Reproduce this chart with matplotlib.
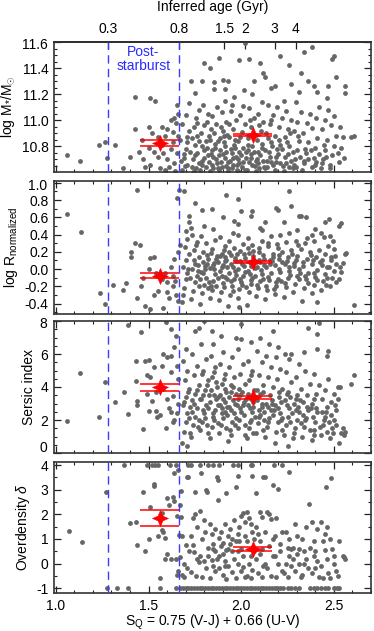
import matplotlib
matplotlib.use("Agg")
import matplotlib.pyplot as plt
from matplotlib.path import Path
from matplotlib.ticker import MultipleLocator, FormatStrFormatter, NullLocator, FuncFormatter
from matplotlib.transforms import offset_copy

plt.rcParams['font.family'] = ['Liberation Sans', 'DejaVu Sans']
plt.rcParams['mathtext.fontset'] = 'custom'
plt.rcParams['mathtext.rm'] = 'Liberation Sans'
plt.rcParams['mathtext.it'] = 'Liberation Sans:italic'
plt.rcParams['mathtext.sf'] = 'Liberation Sans'
plt.rcParams['axes.unicode_minus'] = False

# ---------------- data ----------------
age_tick_pos = [1.283, 1.663, 1.909, 2.02, 2.18, 2.294]
age_tick_lab = ['0.3', '0.8', '1.5', '2', '3', '4']
psb_lines = [1.283, 1.663]

bin_x = [1.56, 2.065]
bin_lo = [1.452, 1.955]
bin_hi = [1.665, 2.168]
mass_mean = [10.825, 10.889]
mass_up = [10.845, 10.897]
mass_dn = [10.805, 10.877]
size_mean = [-0.075, 0.083]
size_up = [-0.05, 0.096]
size_dn = [-0.105, 0.068]
sersic_mean = [3.98, 3.40]
sersic_up = [4.19, 3.48]
sersic_dn = [3.76, 3.30]
dens_mean = [1.86, 0.60]
dens_up = [2.18, 0.67]
dens_dn = [1.54, 0.50]

mass_pts = [
    (1.06,10.73),(1.13,10.69),(1.235,10.81),(1.265,10.83),(1.275,10.71),(1.32,10.81),(1.36,10.63),
    (1.425,11.18),(1.425,10.93),(1.51,11.17),(1.535,11.15),(1.465,10.85),(1.40,10.72),(1.48,10.64),
    (1.50,10.95),(1.52,10.90),(1.55,10.87),(1.57,10.95),(1.59,10.88),(1.60,10.93),(1.62,11.00),
    (1.63,10.91),(1.64,11.02),(1.655,11.12),(1.66,11.05),(1.65,10.98),(1.50,10.79),(1.53,10.76),
    (1.55,10.72),(1.58,10.75),(1.60,10.70),(1.62,10.78),(1.64,10.67),(1.47,10.70),(1.51,10.66),
    (1.56,10.63),(1.61,10.64),(1.45,10.76),(1.57,10.81),(1.63,10.83),(1.655,10.75),(1.66,10.88),
    (1.59,10.62),(1.645,10.61),
    (1.68,10.62),(1.69,10.71),(1.70,10.78),(1.67,10.85),(1.71,10.66),(1.72,10.92),(1.68,10.97),(1.70,11.04),
    (1.69,10.74),(1.71,10.83),(1.72,11.13),(1.73,11.30),
    (1.733,10.64),(1.74,10.70),(1.75,10.81),(1.76,10.88),(1.744,10.95),(1.755,11.02),(1.77,10.67),(1.763,10.75),
    (1.736,10.86),(1.77,11.08),(1.752,11.21),(1.745,10.61),(1.76,10.98),
    (1.78,10.62),(1.79,10.69),(1.80,10.77),(1.81,10.84),(1.784,10.90),(1.80,10.96),(1.82,11.05),(1.795,11.12),
    (1.81,10.64),(1.82,10.73),(1.786,10.80),(1.80,11.44),(1.79,11.30),(1.815,10.99),(1.824,10.88),
    (1.83,10.61),(1.84,10.66),(1.85,10.72),(1.86,10.79),(1.834,10.85),(1.852,10.90),(1.865,10.97),(1.844,11.03),
    (1.87,11.10),(1.83,11.40),(1.853,11.24),(1.873,10.63),(1.862,10.70),(1.843,10.77),(1.872,10.84),(1.836,10.93),(1.855,11.29),
    (1.88,10.62),(1.89,10.68),(1.90,10.74),(1.91,10.80),(1.884,10.86),(1.90,10.92),(1.92,10.99),(1.894,11.06),
    (1.91,11.15),(1.88,11.48),(1.90,11.31),(1.92,10.65),(1.914,10.71),(1.883,10.77),(1.905,10.83),(1.922,10.89),
    (1.893,10.95),(1.91,11.24),(1.926,10.61),
    (1.93,10.63),(1.94,10.69),(1.95,10.75),(1.96,10.81),(1.934,10.87),(1.953,10.93),(1.97,11.00),(1.944,11.07),
    (1.96,11.18),(1.93,11.30),(1.955,10.66),(1.973,10.72),(1.946,10.78),(1.964,10.85),(1.936,10.97),(1.975,10.62),(1.95,11.12),
    (1.98,10.61),(1.99,10.67),(2.00,10.73),(2.01,10.79),(1.984,10.84),(2.004,10.91),(2.02,10.97),(1.993,11.04),
    (2.01,11.11),(1.99,11.46),(2.02,11.59),(1.985,10.70),(2.003,10.64),(2.024,10.76),(1.996,10.87),(2.013,11.23),
    (2.03,10.62),(2.04,10.68),(2.05,10.74),(2.06,10.80),(2.034,10.86),(2.053,10.95),(2.07,11.02),(2.044,11.09),
    (2.06,11.20),(2.04,11.47),(2.073,10.65),(2.055,10.71),(2.035,10.77),(2.064,10.88),(2.046,11.00),(2.07,11.30),
    (2.08,10.61),(2.09,10.67),(2.10,10.73),(2.11,10.79),(2.084,10.85),(2.104,10.92),(2.12,10.99),(2.093,11.05),
    (2.11,11.14),(2.10,11.44),(2.123,10.64),(2.085,10.70),(2.113,10.82),(2.094,10.96),(2.12,11.36),
    (2.13,10.63),(2.14,10.69),(2.15,10.76),(2.16,10.83),(2.134,10.90),(2.153,10.97),(2.17,11.04),(2.144,11.12),
    (2.13,11.33),(2.16,11.25),(2.173,10.66),(2.155,10.72),(2.145,10.86),(2.163,11.00),
    (2.18,10.62),(2.19,10.68),(2.20,10.74),(2.21,10.81),(2.184,10.88),(2.203,10.95),(2.22,11.02),(2.194,11.10),
    (2.21,11.49),(2.18,11.26),(2.223,10.65),(2.205,10.85),(2.195,10.78),
    (2.23,10.61),(2.24,10.67),(2.25,10.74),(2.26,10.80),(2.234,10.87),(2.253,10.93),(2.27,11.00),(2.244,11.07),
    (2.26,11.42),(2.27,11.28),(2.23,11.15),(2.255,10.64),(2.264,10.90),
    (2.28,10.63),(2.29,10.70),(2.30,10.77),(2.31,10.84),(2.284,10.92),(2.303,10.99),(2.32,11.06),(2.294,11.14),
    (2.31,11.22),(2.32,11.36),(2.286,10.66),(2.305,10.88),
    (2.33,10.62),(2.34,10.69),(2.35,10.75),(2.36,10.83),(2.334,10.90),(2.353,10.98),(2.37,11.05),(2.34,11.52),
    (2.36,11.30),(2.38,11.56),(2.345,10.78),
    (2.383,10.64),(2.39,10.71),(2.40,10.79),(2.41,10.86),(2.384,10.94),(2.403,11.02),(2.42,11.10),(2.39,11.26),
    (2.41,11.22),(2.405,10.68),
    (2.43,10.63),(2.44,10.70),(2.45,10.77),(2.46,10.85),(2.434,10.93),(2.453,11.00),(2.47,11.08),(2.46,11.17),
    (2.47,11.26),(2.444,10.81),
    (2.48,10.66),(2.49,10.73),(2.50,10.80),(2.51,10.88),(2.484,10.96),(2.503,11.03),(2.49,11.47),(2.50,11.49),
    (2.51,11.33),(2.52,10.75),
    (2.53,10.68),(2.54,10.79),(2.55,10.87),(2.56,11.21),(2.56,11.26),(2.535,10.95),(2.59,10.87),(2.555,10.71),(2.61,10.88),
    (1.675,10.69),(1.695,10.65),(1.705,10.87),(1.725,10.76),(1.748,10.73),(1.758,10.63),(1.772,10.84),(1.788,10.66),
    (1.798,10.71),(1.817,10.79),(1.828,10.68),(1.838,10.74),(1.848,10.63),(1.858,10.82),(1.868,10.67),(1.878,10.73),
    (1.898,10.64),(1.908,10.88),(1.918,10.76),(1.928,10.68),(1.948,10.63),(1.958,10.71),(1.968,10.79),(1.978,10.66),
    (1.988,10.76),(2.008,10.68),(2.018,10.62),(2.028,10.71),(2.038,10.81),(2.058,10.66),(2.068,10.76),(2.078,10.69),
    (2.088,10.76),(2.098,10.63),(2.118,10.69),(2.128,10.77),(2.138,10.64),(2.158,10.68),(2.168,10.80),(2.188,10.72),
    (2.208,10.67),(2.218,10.78),(2.238,10.72),(2.248,10.83),(2.268,10.69),(2.278,10.76),(2.298,10.64),(2.318,10.72),
    (2.338,10.67),(2.358,10.70),(2.378,10.77),(2.398,10.66),(2.418,10.74),(2.438,10.67),(2.458,10.72),(2.478,10.63),
]

size_pts = [
    (1.06,0.64),(1.135,0.43),(1.265,-0.40),(1.24,-0.28),(1.31,-0.18),(1.36,-0.24),(1.38,-0.16),(1.405,0.20),
    (1.405,0.14),(1.425,0.30),(1.455,0.28),(1.44,-0.33),(1.46,-0.20),(1.47,-0.10),(1.50,0.00),(1.51,0.13),
    (1.53,0.14),(1.48,-0.43),(1.51,-0.46),(1.44,0.92),(1.665,0.92),(1.655,0.82),(1.69,0.90),(1.60,-0.15),
    (1.63,-0.20),(1.65,-0.30),(1.66,-0.37),(1.58,-0.45),(1.60,-0.26),(1.62,0.02),(1.64,0.12),(1.55,-0.25),
    (1.57,-0.12),(1.59,-0.05),(1.53,-0.30),(1.63,-0.08),(1.66,0.20),(1.67,0.28),(1.54,-0.05),(1.61,-0.34),(1.645,-0.14),
    (1.68,-0.38),(1.69,-0.22),(1.70,-0.12),(1.71,-0.05),(1.684,0.03),(1.70,0.10),(1.72,0.18),(1.694,0.26),
    (1.71,0.35),(1.703,0.44),(1.72,0.55),(1.686,-0.30),(1.713,0.00),(1.72,0.62),
    (1.73,-0.35),(1.74,-0.25),(1.75,-0.15),(1.76,-0.08),(1.734,0.00),(1.753,0.06),(1.77,0.14),(1.744,0.22),
    (1.76,0.31),(1.735,0.40),(1.77,-0.19),(1.745,0.10),(1.755,0.28),(1.765,-0.02),(1.75,0.76),(1.73,0.48),
    (1.78,-0.40),(1.79,-0.28),(1.80,-0.18),(1.81,-0.10),(1.784,-0.03),(1.803,0.04),(1.82,0.12),(1.794,0.20),
    (1.81,0.30),(1.785,0.38),(1.80,0.50),(1.823,-0.22),(1.796,0.08),(1.814,0.16),(1.805,0.00),(1.79,0.68),
    (1.83,-0.33),(1.84,-0.24),(1.85,-0.14),(1.86,-0.06),(1.834,0.01),(1.853,0.07),(1.87,0.15),(1.844,0.23),
    (1.86,0.34),(1.85,0.47),(1.835,-0.20),(1.872,-0.10),(1.846,0.05),(1.864,0.12),(1.836,0.19),(1.84,0.70),
    (1.88,-0.36),(1.89,-0.26),(1.90,-0.16),(1.91,-0.09),(1.884,-0.02),(1.903,0.05),(1.92,0.11),(1.894,0.18),
    (1.91,0.27),(1.885,0.37),(1.905,-0.21),(1.922,-0.12),(1.896,0.02),(1.914,0.09),(1.886,0.15),(1.906,0.22),
    (1.92,0.86),(1.90,0.60),
    (1.93,-0.43),(1.94,-0.30),(1.95,-0.19),(1.96,-0.11),(1.934,-0.04),(1.953,0.03),(1.97,0.09),(1.944,0.16),
    (1.96,0.24),(1.935,0.33),(1.955,-0.25),(1.972,-0.07),(1.946,0.06),(1.964,0.13),(1.936,0.20),(1.955,0.42),(1.96,0.56),
    (1.98,-0.34),(1.99,-0.23),(2.00,-0.15),(2.01,-0.08),(1.984,0.00),(2.003,0.06),(2.02,0.13),(1.994,0.21),
    (2.01,0.29),(1.985,0.40),(2.005,-0.18),(2.022,-0.03),(1.996,0.09),(2.014,0.17),(1.98,0.52),(1.985,0.81),
    (2.00,0.67),(1.99,-0.44),
    (2.03,-0.41),(2.04,-0.27),(2.05,-0.17),(2.06,-0.10),(2.034,-0.02),(2.053,0.04),(2.07,0.11),(2.044,0.19),
    (2.06,0.28),(2.035,0.36),(2.055,-0.13),(2.072,0.01),(2.046,0.08),(2.064,0.15),(2.036,0.24),(2.06,0.67),(2.05,0.62),
    (2.08,-0.31),(2.09,-0.22),(2.10,-0.14),(2.11,-0.06),(2.084,0.02),(2.103,0.08),(2.12,0.16),(2.094,0.24),
    (2.11,0.32),(2.085,-0.18),(2.105,-0.01),(2.122,0.12),(2.096,0.20),(2.114,0.45),(2.10,0.48),
    (2.13,-0.35),(2.14,-0.24),(2.15,-0.13),(2.16,-0.05),(2.134,0.03),(2.153,0.10),(2.17,0.18),(2.144,0.27),
    (2.16,0.38),(2.135,-0.19),(2.155,0.06),(2.172,0.14),(2.146,0.30),(2.13,0.55),
    (2.18,-0.29),(2.19,-0.20),(2.20,-0.11),(2.21,-0.03),(2.184,0.05),(2.203,0.12),(2.22,0.20),(2.194,0.29),
    (2.21,0.40),(2.185,-0.15),(2.205,0.00),(2.222,0.08),(2.196,0.25),(2.19,0.71),(2.20,0.68),
    (2.23,-0.32),(2.24,-0.21),(2.25,-0.10),(2.26,-0.02),(2.234,0.06),(2.253,0.14),(2.27,0.22),(2.244,0.31),
    (2.26,0.42),(2.235,-0.16),(2.255,0.02),(2.272,0.18),(2.26,0.90),(2.27,0.73),(2.23,0.55),
    (2.28,-0.26),(2.29,-0.17),(2.30,-0.08),(2.31,0.00),(2.284,0.07),(2.303,0.15),(2.32,0.23),(2.294,0.33),
    (2.31,-0.12),(2.285,0.04),(2.305,0.28),(2.31,0.62),(2.32,0.62),(2.30,0.45),
    (2.33,-0.37),(2.34,-0.22),(2.35,-0.12),(2.36,-0.04),(2.334,0.04),(2.353,0.12),(2.37,0.20),(2.344,0.30),
    (2.36,-0.16),(2.335,0.08),(2.355,0.36),(2.35,0.60),
    (2.38,-0.28),(2.39,-0.18),(2.40,-0.09),(2.41,-0.01),(2.384,0.06),(2.403,0.14),(2.42,0.22),(2.394,0.32),
    (2.41,-0.13),(2.385,0.10),(2.40,0.47),(2.38,0.40),(2.41,-0.38),
    (2.43,-0.24),(2.44,-0.14),(2.45,-0.06),(2.46,0.02),(2.434,0.10),(2.453,0.18),(2.47,0.27),(2.444,0.37),
    (2.46,-0.10),(2.435,0.05),(2.45,0.55),(2.43,0.42),
    (2.48,-0.20),(2.49,-0.10),(2.50,-0.02),(2.51,0.06),(2.484,0.14),(2.503,0.23),(2.494,0.33),(2.51,-0.15),
    (2.485,0.10),(2.476,0.58),(2.48,0.38),
    (2.53,-0.12),(2.54,-0.03),(2.55,0.07),(2.56,0.17),(2.565,0.19),(2.535,0.02),(2.54,0.53),(2.53,0.50),(2.61,-0.41),
    (1.725,-0.10),(1.765,0.05),(1.775,-0.12),(1.795,-0.05),(1.815,0.06),(1.825,-0.15),(1.855,0.00),(1.865,-0.19),
    (1.875,0.08),(1.895,-0.08),(1.915,0.14),(1.925,0.03),(1.945,-0.14),(1.965,-0.02),(1.975,0.18),(1.995,-0.11),
    (2.015,0.04),(2.025,-0.21),(2.045,-0.06),(2.065,0.21),(2.075,-0.08),(2.095,0.11),(2.115,-0.12),(2.125,0.05),
    (2.145,-0.09),(2.165,0.09),(2.175,-0.23),(2.205,0.16),(2.215,-0.14),(2.245,0.09),(2.265,-0.07),(2.295,0.11),
    (2.315,-0.04),(2.345,-0.08),(2.375,0.16),(2.395,-0.05),(2.425,0.08),(2.455,-0.18),(2.475,0.03),(2.505,0.15),
]

sersic_pts = [
    (1.06,1.96),(1.13,4.82),(1.235,2.19),(1.267,4.29),(1.32,3.07),(1.365,3.68),(1.387,2.39),(1.387,7.73),
    (1.43,4.35),(1.44,3.15),(1.44,2.90),(1.46,7.33),(1.43,5.60),(1.47,1.46),(1.48,5.60),(1.50,5.62),
    (1.49,4.75),(1.51,4.60),(1.49,3.60),(1.54,3.70),(1.50,2.55),(1.52,3.15),(1.54,2.55),(1.545,2.20),
    (1.594,7.94),(1.594,1.50),(1.62,7.50),(1.58,6.00),(1.60,5.80),(1.62,4.90),(1.63,1.90),(1.64,6.40),
    (1.65,7.10),(1.655,5.30),(1.61,2.70),(1.62,2.50),(1.64,2.00),(1.57,5.30),(1.53,5.20),(1.60,3.30),
    (1.63,3.45),(1.66,3.00),(1.655,2.40),(1.56,2.30),(1.58,3.90),(1.62,5.90),(1.66,4.50),
    (1.68,0.60),(1.69,1.30),(1.70,1.90),(1.71,2.40),(1.684,2.90),(1.70,3.40),(1.72,3.90),(1.694,4.40),
    (1.71,5.00),(1.685,5.60),(1.70,6.30),(1.72,2.10),(1.693,3.10),(1.714,3.70),(1.722,1.20),(1.705,0.40),
    (1.73,1.00),(1.74,1.70),(1.75,2.20),(1.76,2.70),(1.734,3.20),(1.753,3.60),(1.77,4.10),(1.744,4.70),
    (1.76,5.30),(1.735,6.00),(1.75,7.40),(1.772,2.00),(1.745,3.00),(1.764,3.80),(1.77,7.60),(1.736,2.50),
    (1.78,1.40),(1.79,1.90),(1.80,2.40),(1.81,2.90),(1.784,3.30),(1.803,3.80),(1.82,4.40),(1.794,5.00),
    (1.81,5.70),(1.785,6.60),(1.805,2.10),(1.822,2.70),(1.796,3.50),(1.814,4.10),(1.82,1.20),(1.80,8.00),(1.786,4.80),
    (1.83,0.90),(1.84,1.60),(1.85,2.20),(1.86,2.60),(1.834,3.10),(1.853,3.50),(1.87,4.00),(1.844,4.60),
    (1.86,5.20),(1.835,5.90),(1.85,6.60),(1.872,1.80),(1.846,2.40),(1.864,3.30),(1.836,3.80),(1.855,4.90),
    (1.874,2.90),(1.84,7.40),
    (1.88,1.20),(1.89,1.70),(1.90,2.10),(1.91,2.50),(1.884,2.90),(1.903,3.30),(1.92,3.70),(1.894,4.20),
    (1.91,4.80),(1.885,5.40),(1.90,6.10),(1.922,2.30),(1.896,2.70),(1.914,3.10),(1.886,3.50),(1.906,4.50),
    (1.92,1.50),(1.89,7.10),
    (1.93,0.70),(1.94,1.40),(1.95,1.90),(1.96,2.40),(1.934,2.80),(1.953,3.20),(1.97,3.60),(1.944,4.10),
    (1.96,4.60),(1.935,5.20),(1.95,5.80),(1.972,2.10),(1.946,2.60),(1.964,3.00),(1.936,3.40),(1.955,4.00),
    (1.97,7.00),(1.944,1.10),
    (1.98,1.50),(1.99,2.00),(2.00,2.50),(2.01,2.90),(1.984,3.30),(2.003,3.70),(2.02,4.20),(1.994,4.80),
    (2.01,5.40),(1.985,6.30),(2.00,7.80),(2.022,1.70),(1.996,2.70),(2.014,3.10),(1.986,3.90),(2.00,6.90),(2.02,1.10),
    (2.03,0.90),(2.04,1.50),(2.05,2.00),(2.06,2.50),(2.034,2.90),(2.053,3.30),(2.07,3.80),(2.044,4.40),
    (2.06,5.00),(2.035,5.60),(2.05,6.70),(2.072,2.20),(2.046,2.70),(2.064,3.10),(2.036,3.60),(2.055,4.70),(2.066,1.20),
    (2.08,1.20),(2.09,1.80),(2.10,2.30),(2.11,2.80),(2.084,3.20),(2.103,3.60),(2.12,4.10),(2.094,4.70),
    (2.11,5.50),(2.085,6.20),(2.10,7.00),(2.122,2.00),(2.096,2.60),(2.114,3.00),(2.086,3.80),(2.12,1.40),
    (2.13,1.00),(2.14,1.60),(2.15,2.10),(2.16,2.60),(2.134,3.00),(2.153,3.50),(2.17,4.00),(2.144,4.60),
    (2.16,5.20),(2.135,5.90),(2.15,6.60),(2.172,2.30),(2.146,2.80),(2.164,3.20),(2.17,7.40),
    (2.18,0.60),(2.19,1.30),(2.20,1.90),(2.21,2.40),(2.184,2.90),(2.203,3.40),(2.22,3.90),(2.194,4.50),
    (2.21,5.10),(2.185,5.80),(2.20,6.40),(2.222,2.10),(2.196,2.70),(2.214,3.10),(2.22,1.40),
    (2.23,1.10),(2.24,1.70),(2.25,2.20),(2.26,2.70),(2.234,3.20),(2.253,3.70),(2.27,4.30),(2.244,4.90),
    (2.26,5.70),(2.235,6.00),(2.25,0.40),(2.272,2.40),(2.246,2.90),(2.264,3.40),(2.27,6.00),
    (2.28,0.90),(2.29,1.50),(2.30,2.00),(2.31,2.50),(2.284,3.00),(2.303,3.50),(2.32,3.90),(2.294,4.60),
    (2.31,5.40),(2.285,1.20),(2.305,2.80),(2.322,1.80),(2.296,3.30),
    (2.33,1.00),(2.34,1.60),(2.35,2.10),(2.36,2.60),(2.334,3.10),(2.353,3.50),(2.37,4.20),(2.344,5.00),
    (2.36,7.60),(2.335,2.30),(2.355,2.80),(2.372,1.40),(2.34,6.10),
    (2.38,0.80),(2.39,1.40),(2.40,1.90),(2.41,2.50),(2.384,3.00),(2.403,3.60),(2.42,4.10),(2.394,4.80),
    (2.41,6.30),(2.42,7.90),(2.385,2.20),(2.405,2.70),(2.41,7.20),(2.395,1.10),
    (2.43,1.10),(2.44,1.70),(2.45,2.20),(2.46,2.80),(2.434,3.30),(2.453,3.80),(2.47,4.50),(2.444,2.00),
    (2.46,1.30),(2.47,6.20),(2.465,5.90),(2.435,2.50),
    (2.48,0.90),(2.49,1.50),(2.50,2.00),(2.51,2.60),(2.484,3.10),(2.503,3.60),(2.52,4.00),(2.494,1.20),
    (2.51,1.70),(2.52,3.30),(2.485,2.30),
    (2.53,0.60),(2.54,1.20),(2.55,1.50),(2.56,1.30),(2.535,4.00),(2.59,4.20),(2.61,4.72),(2.553,1.10),
    (1.725,2.80),(1.765,1.60),(1.775,3.30),(1.795,2.60),(1.815,1.70),(1.825,3.50),(1.855,2.00),(1.865,4.30),
    (1.875,3.40),(1.895,2.40),(1.915,3.90),(1.925,2.80),(1.945,3.70),(1.965,1.70),(1.975,2.90),(1.995,3.50),
    (2.015,2.30),(2.025,3.30),(2.045,1.90),(2.065,2.80),(2.075,3.40),(2.095,2.20),(2.115,3.70),(2.125,2.50),
    (2.145,1.90),(2.165,3.00),(2.175,2.60),(2.205,3.70),(2.215,2.00),(2.245,3.60),(2.265,1.90),(2.295,2.60),
    (2.315,3.20),(2.345,2.00),(2.375,2.70),(2.395,3.30),(2.425,1.60),(2.455,2.50),(2.475,1.90),(2.505,2.90),
]

dens_pts = [
    (1.07,1.33),(1.14,0.88),(1.27,2.90),(1.276,-1.00),(1.33,-1.00),(1.365,4.00),(1.387,-1.00),(1.40,1.63),
    (1.43,1.70),(1.44,0.75),(1.47,2.90),(1.48,0.50),(1.50,1.00),(1.51,2.30),(1.53,3.25),(1.53,3.15),
    (1.55,1.10),(1.57,1.38),(1.58,1.30),(1.59,1.05),(1.57,2.05),(1.60,2.65),(1.61,2.40),(1.63,2.70),
    (1.64,2.55),(1.64,3.70),(1.66,3.80),(1.655,1.95),(1.60,0.40),(1.59,0.20),(1.56,-0.60),(1.56,-1.00),
    (1.62,0.20),(1.65,0.20),(1.66,-0.30),(1.655,-0.45),(1.665,1.15),(1.65,-1.00),
    (1.49,4.00),(1.517,4.00),(1.535,4.00),(1.552,4.00),(1.615,4.00),(1.65,4.00),(1.713,4.00),(1.73,4.00),
    (1.775,4.00),(1.82,4.00),(1.846,4.00),(1.88,4.00),(1.953,4.00),(1.98,4.00),(2.05,4.00),(2.06,4.00),
    (2.176,4.00),(2.22,4.00),
    (1.670,-1.00),(1.685,-1.00),(1.700,-1.00),(1.715,-1.00),(1.730,-1.00),(1.745,-1.00),(1.760,-1.00),
    (1.775,-1.00),(1.790,-1.00),(1.805,-1.00),(1.820,-1.00),(1.835,-1.00),(1.850,-1.00),(1.865,-1.00),
    (1.880,-1.00),(1.895,-1.00),(1.910,-1.00),(1.925,-1.00),(1.940,-1.00),(1.955,-1.00),(1.970,-1.00),
    (1.985,-1.00),(2.000,-1.00),(2.015,-1.00),(2.030,-1.00),(2.045,-1.00),(2.060,-1.00),(2.075,-1.00),
    (2.090,-1.00),(2.105,-1.00),(2.120,-1.00),(2.135,-1.00),(2.150,-1.00),(2.165,-1.00),(2.180,-1.00),
    (2.195,-1.00),(2.210,-1.00),(2.225,-1.00),(2.25,-1.00),(2.27,-1.00),(2.29,-1.00),(2.31,-1.00),
    (2.37,-1.00),(2.39,-1.00),(2.41,-1.00),(2.43,-1.00),(2.45,-1.00),(2.47,-1.00),(2.50,-1.00),(2.515,-1.00),(2.53,-1.00),
    (1.675,2.96),(1.67,2.40),(1.68,1.10),(1.67,0.25),(1.68,-0.45),(1.69,-0.55),(1.70,0.75),(1.71,-0.20),
    (1.72,0.50),(1.705,3.50),(1.715,3.53),(1.69,0.00),(1.675,1.90),
    (1.73,1.10),(1.74,1.85),(1.75,2.92),(1.745,0.45),(1.76,0.20),(1.73,-0.35),(1.755,-0.50),(1.77,0.05),
    (1.76,1.50),(1.74,0.75),(1.75,2.00),
    (1.785,3.69),(1.81,3.00),(1.815,2.90),(1.78,2.15),(1.80,1.75),(1.79,1.00),(1.78,0.30),(1.80,0.10),
    (1.81,-0.20),(1.79,-0.55),(1.82,0.65),(1.805,1.30),(1.82,0.30),
    (1.87,3.50),(1.875,3.40),(1.875,2.58),(1.83,1.60),(1.84,1.20),(1.85,0.80),(1.86,0.50),(1.84,0.15),
    (1.85,-0.10),(1.86,-0.30),(1.83,-0.60),(1.87,0.20),(1.86,1.40),(1.845,0.60),
    (1.92,2.85),(1.88,1.05),(1.89,0.70),(1.90,0.40),(1.91,0.10),(1.88,-0.20),(1.90,-0.45),(1.92,-0.65),
    (1.89,1.30),(1.91,1.60),(1.90,0.85),(1.92,0.55),(1.88,0.30),(1.91,-0.10),
    (1.97,3.10),(1.98,3.57),(1.93,1.10),(1.94,0.80),(1.95,0.50),(1.96,0.20),(1.93,-0.10),(1.95,-0.35),
    (1.97,-0.60),(1.94,1.40),(1.96,1.75),(1.95,1.00),(1.93,0.60),(1.97,0.90),
    (2.00,1.95),(2.01,2.05),(1.98,1.20),(1.99,0.90),(2.00,0.60),(2.01,0.30),(1.98,0.00),(2.00,-0.30),
    (2.02,-0.55),(1.99,1.50),(2.02,1.10),(1.98,0.50),(2.01,-0.15),(2.02,1.70),
    (2.06,3.55),(2.03,2.10),(2.04,1.85),(2.05,1.60),(2.06,1.30),(2.07,1.00),(2.03,0.90),(2.05,0.30),
    (2.04,0.00),(2.06,-0.25),(2.03,-0.50),(2.07,0.50),(2.05,-0.60),
    (2.08,2.85),(2.12,3.50),(2.10,2.10),(2.11,1.90),(2.08,1.50),(2.09,1.20),(2.10,0.90),(2.11,0.60),
    (2.08,0.20),(2.12,-0.10),(2.09,-0.40),(2.11,-0.55),(2.10,0.40),
    (2.13,3.50),(2.17,3.20),(2.14,2.10),(2.15,2.00),(2.16,1.80),(2.13,1.30),(2.15,0.70),(2.17,0.30),
    (2.14,-0.20),(2.16,-0.50),(2.13,0.00),(2.17,1.00),
    (2.20,3.05),(2.19,1.85),(2.18,1.10),(2.21,0.50),(2.20,0.00),(2.22,-0.30),(2.19,-0.55),(2.21,0.80),
    (2.18,0.30),(2.22,1.30),
    (2.257,3.73),(2.24,1.30),(2.25,0.65),(2.26,0.30),(2.27,-0.10),(2.23,-0.40),(2.26,1.00),(2.24,0.00),
    (2.27,0.60),(2.25,-0.55),
    (2.29,1.60),(2.28,0.65),(2.30,0.40),(2.31,0.00),(2.29,-0.30),(2.32,-0.55),(2.30,1.10),(2.28,0.20),(2.31,0.60),
    (2.364,2.42),(2.33,1.00),(2.34,0.50),(2.35,0.20),(2.36,-0.20),(2.33,-0.45),(2.35,1.50),(2.37,0.65),(2.34,0.00),
    (2.38,1.70),(2.39,0.90),(2.40,0.50),(2.41,0.10),(2.38,-0.40),(2.42,-0.55),(2.41,1.40),(2.39,0.30),(2.40,-0.20),
    (2.455,3.10),(2.43,1.70),(2.44,0.90),(2.45,0.55),(2.46,0.20),(2.43,-0.10),(2.47,-0.40),(2.46,1.50),
    (2.44,-0.60),(2.45,1.20),
    (2.485,3.47),(2.48,1.00),(2.49,0.60),(2.50,0.30),(2.51,-0.30),(2.48,-0.60),(2.50,0.00),(2.52,-0.50),
    (2.53,0.90),(2.55,0.30),(2.56,0.20),(2.555,0.25),
]

# ---------------- figure ----------------
W, H = 374, 631
fig = plt.figure(figsize=(W / 100, H / 100), dpi=100)

left, right = 54 / W, 371 / W
panels_px = [(42, 172), (181, 314), (321, 453), (462, 593)]
axes = []
for (t, b) in panels_px:
    axes.append(fig.add_axes([left, 1 - b / H, right - left, (b - t) / H]))

r = 0.3
star = Path([(0, 1), (r, r), (1, 0), (r, -r), (0, -1), (-r, -r), (-1, 0), (-r, r), (0, 1)],
            [Path.MOVETO] + [Path.LINETO] * 7 + [Path.CLOSEPOLY])

# (points, mean, up, down, ylim, major, minor, label, fmt, edge labels (value, dy px))
data = [
    (mass_pts, mass_mean, mass_up, mass_dn, (10.603, 11.6), 0.2, 0.05, r'log M$_{*}$/M$_{\odot}$', '%.1f', [(11.6, -3)]),
    (size_pts, size_mean, size_up, size_dn, (-0.52, 1.02), 0.2, 0.1, r'log R$_{\rm normalized}$', '%.1f', [(1.0, -3)]),
    (sersic_pts, sersic_mean, sersic_up, sersic_dn, (0, 8), 2, 0.5, 'Sersic index', '%d', [(8, -3), (0, 5)]),
    (dens_pts, dens_mean, dens_up, dens_dn, (-1.2, 4.13), 1, 0.5, r'Overdensity $\delta$', '%d', []),
]

fs = 10
grey = '#666666'
blue = '#3c3cff'
for i, (ax, (pts, mean, up, dn, ylim, maj, mnr, ylab, fmt, edges)) in enumerate(zip(axes, data)):
    xs = [p[0] for p in pts]
    ys = [p[1] for p in pts]
    ax.scatter(xs, ys, s=12, color=grey, linewidths=0, zorder=2)
    for xv in psb_lines:
        ax.axvline(xv, color=blue, lw=1.0, dashes=(6, 3.8), zorder=3)
    for k in range(2):
        ax.hlines([up[k], dn[k]], bin_lo[k], bin_hi[k], colors='red', lw=1.1, zorder=4)
        ax.plot([bin_x[k]], [mean[k]], marker=star, ms=11.5, color='red', mec='red', mew=0.4, zorder=5, ls='none')
    ax.set_xlim(0.99, 2.70)
    ax.set_ylim(*ylim)
    ax.xaxis.set_major_locator(MultipleLocator(0.5))
    ax.xaxis.set_minor_locator(MultipleLocator(0.1))
    ax.yaxis.set_major_locator(MultipleLocator(maj))
    ax.yaxis.set_minor_locator(MultipleLocator(mnr))
    edge_vals = [e[0] for e in edges]
    ax.yaxis.set_major_formatter(FuncFormatter(
        lambda v, p, f=fmt, ev=edge_vals: '' if any(abs(v - e) < 1e-6 for e in ev) else (f % v if f != '%d' else '%d' % round(v))))
    ax.tick_params(which='both', direction='in', top=(i != 0), right=True, labelsize=fs, color='#222222', pad=4)
    ax.tick_params(which='major', length=5, width=0.9)
    ax.tick_params(which='minor', length=2.5, width=0.8)
    for sp in ax.spines.values():
        sp.set_linewidth(1.2)
        sp.set_color('#333333')
    for (ev, dy) in edges:
        tr = offset_copy(ax.get_yaxis_transform(), fig=fig, x=-6.5, y=dy, units='dots')
        txt = (fmt % ev) if fmt != '%d' else '%d' % round(ev)
        ax.text(0, ev, txt, transform=tr, ha='right', va='center', fontsize=fs, clip_on=False)
    ax.set_ylabel(ylab, fontsize=fs, labelpad=3)
    if i < 3:
        ax.tick_params(labelbottom=False)

axes[3].xaxis.set_major_formatter(FormatStrFormatter('%.1f'))
axes[3].set_xlabel(r'S$_{\rm Q}$ = 0.75 (V-J) + 0.66 (U-V)', fontsize=fs, labelpad=0)

ax0 = axes[0]
sec = ax0.secondary_xaxis('top')
sec.set_xticks(age_tick_pos)
sec.set_xticklabels(age_tick_lab)
sec.tick_params(direction='in', length=5, width=0.9, labelsize=fs, pad=4, color='#222222')
sec.xaxis.set_minor_locator(NullLocator())
sec.set_xlabel('Inferred age (Gyr)', fontsize=fs, labelpad=8)
sec.spines['top'].set_linewidth(1.2)

ax0.text(1.473, 11.47, 'Post-\nstarburst', color='#2a2aff', fontsize=fs, ha='center', va='center', linespacing=0.95)

fig.savefig('out.png', dpi=100)
